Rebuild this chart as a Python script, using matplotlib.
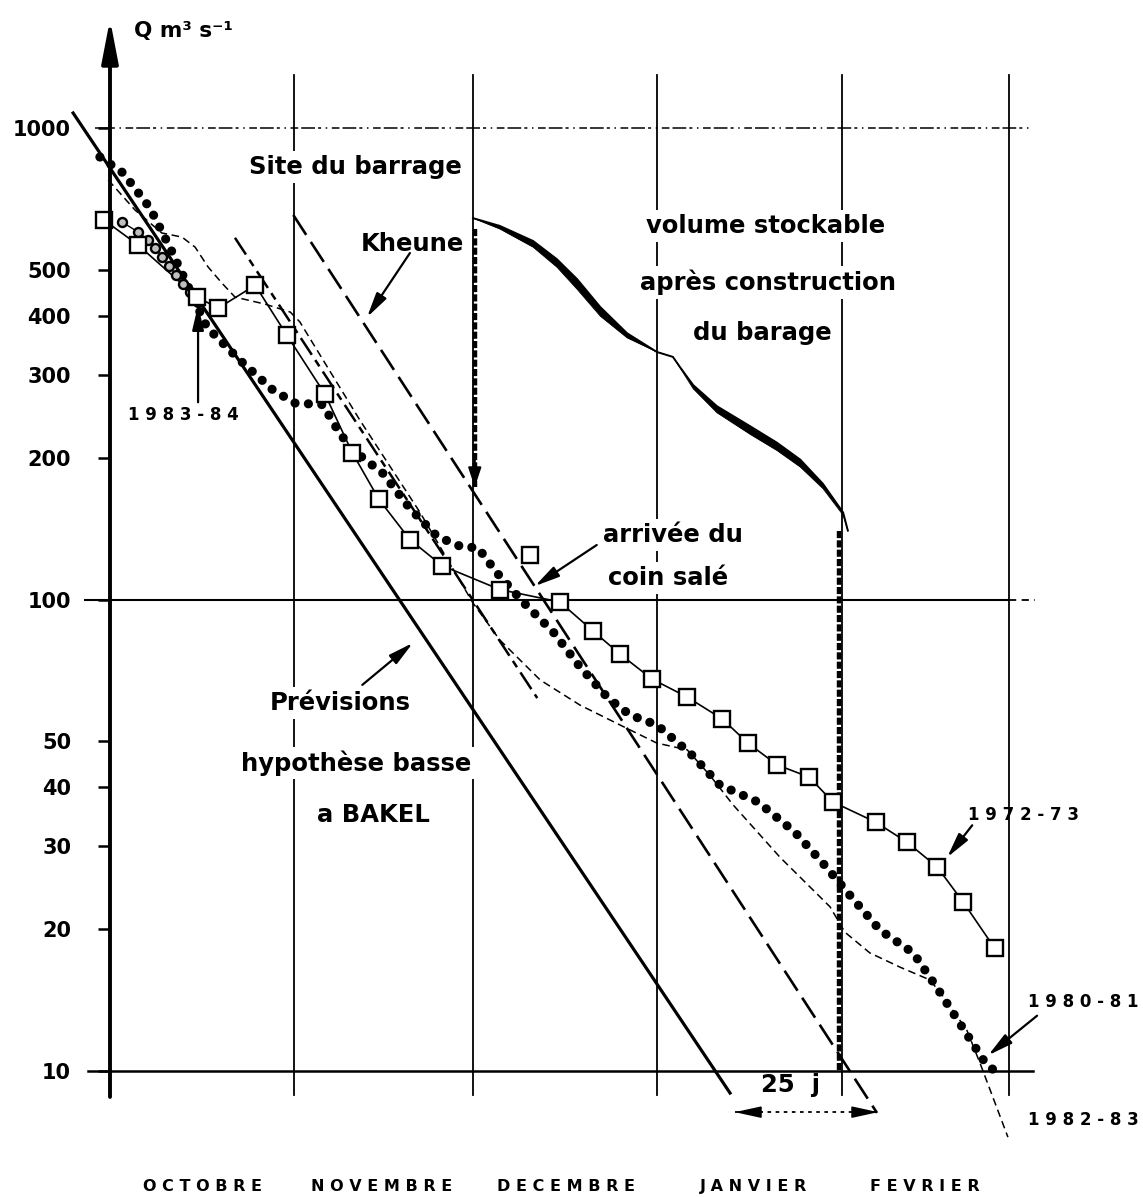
import matplotlib
matplotlib.use("Agg")
import matplotlib.pyplot as plt
from matplotlib.ticker import NullLocator

plt.rcParams['font.family'] = ['DejaVu Sans']

# x axis: days counted from 1 October ; y axis: discharge Q (m3/s), log scale
month_starts = [0, 31, 61, 92, 123, 151]
month_names = ["OCTOBRE", "NOVEMBRE", "DECEMBRE", "JANVIER", "FEVRIER"]
month_centers = [15.5, 45.7, 76.6, 108.1, 137.0]
ytick_values = [10, 20, 30, 40, 50, 100, 200, 300, 400, 500, 1000]
ytick_labels = ["10", "20", "30", "40", "50", "100", "200", "300", "400", "500", "1000"]

# 1972-73 (open squares)
y7273_day = [-1.0, 4.7, 14.6, 18.2, 24.4, 29.7, 36.1, 40.7, 45.2, 50.4, 55.8, 65.5,
             75.6, 81.2, 85.7, 91.1, 97.0, 102.9, 107.2, 112.1, 117.5, 121.5, 128.7,
             133.9, 139.0, 143.4, 148.7]
y7273_q = [638, 565, 438, 415, 464, 364, 273, 205, 163, 134, 118, 105,
           98.8, 85.7, 76.6, 67.8, 62.1, 55.8, 49.6, 44.6, 42.0, 37.2, 33.7,
           30.6, 27.1, 22.8, 18.2]
y7273_iso_day = [70.6]
y7273_iso_q = [124]

# 1983-84 (small circles)
y8384_day = [2.0, 4.7, 6.4, 7.6, 8.7, 9.9, 11.1, 12.3, 13.4, 14.8]
y8384_q = [632, 602, 579, 557, 533, 510, 488, 467, 449, 428]

# 1980-81 (heavy dots)
y8081_day = [-1.7, 2.2, 6.7, 10.1, 16.3, 21.8, 27.4, 31.1, 35.8, 37.5, 40.3, 45.9,
             50.4, 55.0, 59.3, 61.8, 65.0, 69.4, 74.5, 79.0, 83.7, 87.4, 91.9, 97.5,
             102.5, 108.9, 115.1, 119.8, 124.7, 129.4, 135.0, 139.0, 143.2, 147.1, 149.1]
y8081_q = [868, 803, 677, 557, 378, 322, 278, 261, 259, 237, 210, 185,
           156, 136, 129, 129, 114, 98.8, 85.3, 71.9, 61.8, 56.9, 54.2, 47.2,
           40.4, 37.2, 32.1, 27.6, 23.3, 19.9, 17.8, 15.0, 12.4, 10.4, 9.9]

# 1982-83 (thin dashed)
y8283_day = [-0.3, 4.2, 8.7, 12.1, 14.3, 16.5, 18.8, 21.0, 26.1, 30.3, 31.9, 35.3,
             42.0, 52.1, 61.0, 65.5, 72.3, 79.0, 85.7, 91.9, 97.0, 100.8, 104.7,
             112.6, 121.0, 123.5, 127.7, 132.8, 137.8, 140.0, 144.0, 146.2, 150.9]
y8283_q = [776, 670, 599, 587, 559, 507, 469, 438, 423, 407, 388, 330,
           240, 153, 98.3, 82.1, 67.5, 59.7, 54.2, 49.6, 48.0, 42.4, 36.7,
           28.4, 22.3, 19.7, 17.8, 16.6, 15.6, 14.4, 12.2, 10.4, 7.24]

# forecast lines (low hypothesis)
bakel_day = [-6.2, 104.2]
bakel_q = [1076, 8.98]
kheune_day = [30.8, 128.9]
kheune_q = [654, 8.15]
site_day = [21.0, 71.8]
site_q = [585, 61.8]

# storable volume after dam construction
vol_day = [61.0, 65.5, 71.1, 75.1, 78.5, 82.4, 86.9, 91.9, 94.6, 95.8, 98.0,
           102.0, 107.6, 112.1, 116.0, 119.8, 123.2, 124.0]
vol_upper_q = [644, 620, 576, 527, 478, 417, 367, 335, 327, 311, 285,
               257, 233, 215, 198, 176, 153, 140]
vol_lower_q = [644, 611, 559, 507, 455, 399, 359, 335, 327, 310, 280,
               249, 224, 207, 191, 172, 151, 140]
vol_bar_day = [61.3, 122.5]
vol_bar_top_q = [610, 140]
vol_bar_bottom_q = [173, 10]

# 25 days gap
gap_day = [105.0, 129.1]
gap_q = 8.18

fig = plt.figure(figsize=(11.43, 11.97), dpi=100)
ax = fig.add_axes([110 / 1143, 0, 1 - 110 / 1143, 1])
ax.set_yscale('log')
ax.set_xlim(0, 173.6)
ax.set_ylim(5.405, 1868.5)
for sp in ax.spines.values():
    sp.set_visible(False)
ax.set_xticks([])
ax.set_yticks(ytick_values, labels=ytick_labels)
ax.yaxis.set_minor_locator(NullLocator())
ax.tick_params(axis='y', direction='out', length=9, width=1.8, pad=19, labelsize=15)
for lbl in ax.get_yticklabels():
    lbl.set_fontweight('bold')

# grid
for d in month_starts[1:]:
    ax.plot([d, d], [1296, 8.89], color='k', lw=1.3, zorder=1, clip_on=False)
ax.plot([-2.5, 154.6], [1000, 1000], color='k', lw=1.1, dashes=(9, 2, 2, 3, 1, 3, 5, 2),
        zorder=1, clip_on=False)
ax.plot([-4.2, 151], [100, 100], color='k', lw=1.5, zorder=1, clip_on=False)
ax.plot([151, 155.5], [100, 100], color='k', lw=1.3, dashes=(4, 3), zorder=1, clip_on=False)
ax.plot([-3.7, 155.1], [10, 10], color='k', lw=1.8, zorder=1, clip_on=False)

# y axis with arrow
ax.annotate('', xy=(0, 1700), xytext=(0, 8.81),
            arrowprops=dict(arrowstyle='-|>,head_length=2.6,head_width=0.5', lw=2.8,
                            color='k', shrinkA=0, shrinkB=0),
            annotation_clip=False, zorder=6)

# forecast lines
ax.plot(bakel_day, bakel_q, color='k', lw=2.3, zorder=3, clip_on=False)
ax.plot(kheune_day, kheune_q, color='k', lw=1.9, dashes=(9, 3.2), zorder=3, clip_on=False)
ax.plot(site_day, site_q, color='k', lw=1.8, dashes=(8, 2.5, 3, 2.5), zorder=3, clip_on=False)

# observed years
ax.plot(y8283_day, y8283_q, color='k', lw=1.1, dashes=(5, 3), zorder=3, clip_on=False)
ax.plot(y8081_day, y8081_q, color='k', lw=6.6, linestyle=(0, (0.01, 1.45)),
        dash_capstyle='round', zorder=4, clip_on=False)
ax.plot(y8384_day, y8384_q, color='k', lw=1.0, marker='o', ms=6.5, mfc='0.75',
        mec='k', mew=1.7, zorder=5, clip_on=False)
ax.plot(y7273_day, y7273_q, color='k', lw=1.2, zorder=4, clip_on=False)
ax.plot(y7273_day + y7273_iso_day, y7273_q + y7273_iso_q, ls='none', marker='s', ms=12,
        mfc='white', mec='k', mew=1.7, zorder=5, clip_on=False)

# storable volume
ax.fill_between(vol_day, vol_lower_q, vol_upper_q, color='k', lw=0, zorder=3)
ax.plot(vol_day, vol_upper_q, color='k', lw=1.4, zorder=3)
ax.plot(vol_day, vol_lower_q, color='k', lw=0.6, zorder=3)
for d, qt, qb in zip(vol_bar_day, vol_bar_top_q, vol_bar_bottom_q):
    ax.plot([d, d], [qt, qb], color='k', lw=3.2, dashes=(1.6, 0.5), zorder=3)
ax.annotate('', xy=(vol_bar_day[0], vol_bar_bottom_q[0]), xytext=(vol_bar_day[0], 200),
            arrowprops=dict(arrowstyle='-|>,head_length=1.2,head_width=0.4', lw=1.5,
                            color='k', shrinkA=0, shrinkB=0), zorder=4)

# 25 j arrow
ax.plot(gap_day, [gap_q, gap_q], color='k', lw=1.3, dashes=(2, 2.5), zorder=3)
ax.annotate('', xy=(gap_day[1], gap_q), xytext=(gap_day[1] - 3, gap_q),
            arrowprops=dict(arrowstyle='-|>,head_length=1.6,head_width=0.35', lw=1.2,
                            color='k', shrinkA=0, shrinkB=0), zorder=4)
ax.annotate('', xy=(gap_day[0], gap_q), xytext=(gap_day[0] + 3, gap_q),
            arrowprops=dict(arrowstyle='-|>,head_length=1.6,head_width=0.35', lw=1.2,
                            color='k', shrinkA=0, shrinkB=0), zorder=4)


def label(x, q, s, size=17.5, box=True, **kw):
    bb = dict(boxstyle='square,pad=0.15', fc='white', ec='none') if box else None
    ax.text(x, q, s, fontsize=size, fontweight='bold', ha='center', va='center',
            bbox=bb, zorder=2, **kw)


def arrow(x0, q0, x1, q1):
    ax.annotate('', xy=(x1, q1), xytext=(x0, q0),
                arrowprops=dict(arrowstyle='-|>,head_length=1.5,head_width=0.35', lw=1.6,
                                color='k', shrinkA=0, shrinkB=0),
                annotation_clip=False, zorder=6)


label(41.2, 827, "Site du barrage")
label(50.8, 568, "Kheune")
label(110.1, 620, "volume stockable")
label(110.6, 471, "après construction")
label(109.7, 367, "du barage")
label(94.6, 137, "arrivée du")
label(93.8, 111, "coin salé")
label(38.7, 60.3, "Prévisions")
label(41.3, 45.0, "hypothèse basse")
label(44.2, 34.9, "a BAKEL")
label(114.3, 9.34, "25  j", box=False)
label(12.3, 1606, "Q m³ s⁻¹", size=15.5, box=False)

label(12.4, 246, "1 9 8 3 - 8 4", size=12, box=False)
label(153.6, 34.9, "1 9 7 2 - 7 3", size=12, box=False)
label(163.5, 14.0, "1 9 8 0 - 8 1", size=12, box=False)
label(163.5, 7.87, "1 9 8 2 - 8 3", size=12, box=False)

for c, name in zip(month_centers, month_names):
    label(c, 5.70, " ".join(name), size=11.5, box=False)

arrow(50.4, 543, 43.2, 397)
arrow(81.8, 130.5, 71.4, 106.8)
arrow(42.4, 65.9, 50.9, 80.9)
arrow(14.8, 262, 14.8, 421)
arrow(144.9, 33.2, 140.7, 28.4)
arrow(155.8, 13.1, 147.6, 10.8)

fig.savefig("out.png", dpi=100)
